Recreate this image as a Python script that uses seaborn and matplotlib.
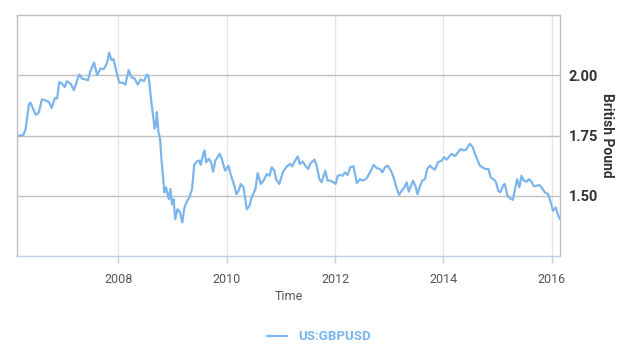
import matplotlib
matplotlib.use('Agg')
import matplotlib.pyplot as plt
import seaborn as sns
import pandas as pd

# GBPUSD weekly-ish readings (decimal year, rate)
years = [
    2006.13, 2006.25, 2006.29, 2006.35, 2006.38, 2006.44, 2006.48, 2006.53, 2006.59, 2006.65,
    2006.72, 2006.77, 2006.83, 2006.87, 2006.91, 2006.96, 2007.01, 2007.05, 2007.12, 2007.18,
    2007.24, 2007.28, 2007.33, 2007.39, 2007.44, 2007.48, 2007.55, 2007.61, 2007.67, 2007.73,
    2007.79, 2007.83, 2007.87, 2007.91, 2007.98, 2008.02, 2008.08, 2008.13, 2008.19, 2008.24,
    2008.30, 2008.36, 2008.41, 2008.47, 2008.53, 2008.56, 2008.61, 2008.67, 2008.69, 2008.71,
    2008.74, 2008.77, 2008.80, 2008.85, 2008.88, 2008.93, 2008.96, 2008.99, 2009.02, 2009.05,
    2009.09, 2009.14, 2009.18, 2009.22, 2009.27, 2009.31, 2009.36, 2009.40, 2009.45, 2009.50,
    2009.52, 2009.56, 2009.59, 2009.62, 2009.67, 2009.71, 2009.75, 2009.79, 2009.87, 2009.91,
    2009.97, 2010.03, 2010.08, 2010.13, 2010.18, 2010.22, 2010.26, 2010.31, 2010.37, 2010.42,
    2010.46, 2010.53, 2010.57, 2010.63, 2010.68, 2010.74, 2010.79, 2010.83, 2010.88, 2010.91,
    2010.97, 2011.04, 2011.11, 2011.17, 2011.21, 2011.25, 2011.31, 2011.35, 2011.40, 2011.45,
    2011.50, 2011.54, 2011.58, 2011.62, 2011.66, 2011.71, 2011.75, 2011.82, 2011.86, 2011.91,
    2011.97, 2012.01, 2012.05, 2012.09, 2012.14, 2012.18, 2012.23, 2012.28, 2012.34, 2012.40,
    2012.46, 2012.50, 2012.57, 2012.61, 2012.66, 2012.71, 2012.77, 2012.83, 2012.87, 2012.92,
    2012.97, 2013.03, 2013.08, 2013.14, 2013.18, 2013.23, 2013.28, 2013.32, 2013.36, 2013.40,
    2013.44, 2013.49, 2013.52, 2013.57, 2013.61, 2013.66, 2013.70, 2013.75, 2013.80, 2013.84,
    2013.90, 2013.97, 2014.01, 2014.06, 2014.11, 2014.15, 2014.21, 2014.26, 2014.32, 2014.37,
    2014.42, 2014.46, 2014.49, 2014.54, 2014.58, 2014.62, 2014.67, 2014.72, 2014.77, 2014.83,
    2014.87, 2014.92, 2014.97, 2015.01, 2015.05, 2015.10, 2015.13, 2015.18, 2015.23, 2015.28,
    2015.32, 2015.36, 2015.40, 2015.44, 2015.48, 2015.53, 2015.58, 2015.63, 2015.67, 2015.72,
    2015.77, 2015.81, 2015.87, 2015.93, 2015.98, 2016.02, 2016.07, 2016.12, 2016.15,
]
rates = [
    1.747, 1.753, 1.778, 1.880, 1.886, 1.854, 1.836, 1.844, 1.900, 1.896,
    1.889, 1.864, 1.906, 1.903, 1.972, 1.965, 1.951, 1.975, 1.965, 1.938,
    1.979, 2.003, 1.986, 1.983, 1.979, 2.014, 2.053, 2.000, 2.028, 2.025,
    2.049, 2.094, 2.063, 2.067, 2.000, 1.969, 1.969, 1.961, 2.021, 1.993,
    1.986, 1.961, 1.983, 1.975, 2.003, 1.993, 1.889, 1.778, 1.790, 1.847,
    1.764, 1.736, 1.639, 1.514, 1.535, 1.486, 1.528, 1.465, 1.486, 1.403,
    1.444, 1.431, 1.389, 1.451, 1.479, 1.493, 1.528, 1.628, 1.642, 1.646,
    1.628, 1.667, 1.688, 1.639, 1.653, 1.639, 1.600, 1.646, 1.674, 1.653,
    1.604, 1.625, 1.583, 1.549, 1.507, 1.521, 1.549, 1.535, 1.444, 1.458,
    1.493, 1.528, 1.594, 1.549, 1.563, 1.590, 1.583, 1.618, 1.604, 1.569,
    1.549, 1.600, 1.622, 1.632, 1.622, 1.642, 1.663, 1.632, 1.642, 1.625,
    1.611, 1.632, 1.642, 1.650, 1.625, 1.569, 1.556, 1.604, 1.563, 1.563,
    1.556, 1.549, 1.583, 1.586, 1.583, 1.597, 1.586, 1.618, 1.622, 1.553,
    1.569, 1.563, 1.569, 1.583, 1.604, 1.628, 1.614, 1.611, 1.597, 1.618,
    1.625, 1.604, 1.576, 1.528, 1.504, 1.521, 1.535, 1.556, 1.517, 1.542,
    1.563, 1.535, 1.507, 1.542, 1.563, 1.569, 1.611, 1.625, 1.614, 1.608,
    1.639, 1.646, 1.660, 1.650, 1.664, 1.674, 1.664, 1.678, 1.694, 1.688,
    1.692, 1.708, 1.715, 1.701, 1.674, 1.653, 1.625, 1.618, 1.611, 1.611,
    1.576, 1.569, 1.556, 1.521, 1.514, 1.542, 1.549, 1.500, 1.489, 1.483,
    1.528, 1.569, 1.535, 1.583, 1.563, 1.558, 1.569, 1.556, 1.539, 1.542,
    1.544, 1.535, 1.514, 1.507, 1.472, 1.438, 1.451, 1.417, 1.403,
]
x_ticks = [2008, 2010, 2012, 2014, 2016]
y_ticks = [1.50, 1.75, 2.00]
series_name = 'US:GBPUSD'

df = pd.DataFrame({'Time': years, 'Rate': rates})

sns.set_style('white')
plt.rcParams['font.family'] = ['Roboto', 'DejaVu Sans']

line_color = '#7cb5ec'
fig = plt.figure(figsize=(6.38, 3.55), dpi=100)
ax = fig.add_axes([17 / 638, 1 - 256 / 355, (560 - 17) / 638, (256 - 15) / 355])

sns.lineplot(data=df, x='Time', y='Rate', ax=ax, color=line_color, lw=1.6, label=series_name, legend=False)

ax.set_xlim(2006.13, 2016.15)
ax.set_ylim(1.25, 2.25)

ax.set_xticks(x_ticks)
ax.set_xticklabels([str(t) for t in x_ticks], fontsize=9, color='#555555')
ax.set_yticks(y_ticks)
ax.set_yticklabels([f'{t:.2f}' for t in y_ticks], fontsize=10.5, fontweight='bold', color='#333333')

ax.yaxis.tick_right()
ax.yaxis.set_label_position('right')
ax.tick_params(axis='y', length=0, pad=6)
ax.tick_params(axis='x', length=5, width=1, color='#c0d0e0', direction='out', pad=7, bottom=True)

ax.grid(axis='y', color='#c0c0c0', lw=1)
ax.grid(axis='x', color='#e6e6e6', lw=1)

for side in ['left', 'top', 'right']:
    ax.spines[side].set_color('#c0c0c0')
    ax.spines[side].set_linewidth(1)
ax.spines['bottom'].set_color('#c0d0e0')
ax.spines['bottom'].set_linewidth(1)

ax.set_xlabel('Time', fontsize=9, color='#555555', labelpad=3)
ax.set_ylabel('British Pound', fontsize=10, fontweight='bold', color='#333333', rotation=270, labelpad=12)

handles, labels = ax.get_legend_handles_labels()
leg = fig.legend(handles, labels, loc='center', bbox_to_anchor=(0.5, 1 - 337 / 355), frameon=False,
                 handlelength=1.5, fontsize=9.5)
for t in leg.get_texts():
    t.set_color(line_color)
    t.set_fontweight('bold')

plt.savefig('out.png', dpi=100)
